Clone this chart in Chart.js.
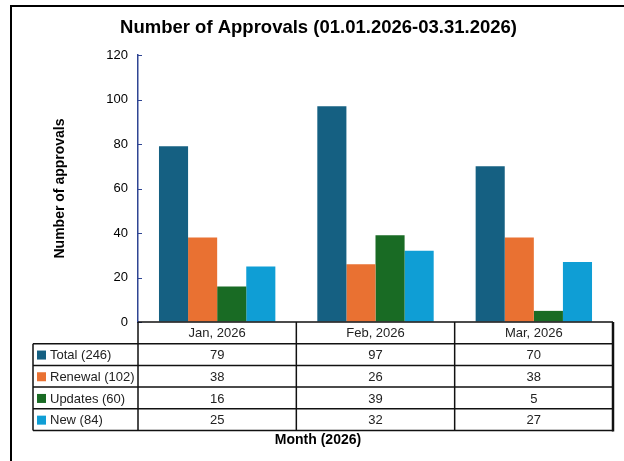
<!DOCTYPE html>
<html>
<head>
<meta charset="utf-8">
<script src="https://cdn.jsdelivr.net/npm/chart.js@4"></script>
<style>
  body { margin: 0; background: #fff; }
  canvas { display: block; }
</style>
</head>
<body>
<canvas id="approvals" width="624" height="461"></canvas>
<script>
// data
const months = ["Jan, 2026", "Feb, 2026", "Mar, 2026"];
const seriesNames = ["Total", "Renewal", "Updates", "New"];
const totalValues = [79, 97, 70];
const renewalValues = [38, 26, 38];
const updatesValues = [16, 39, 5];
const newValues = [25, 32, 27];
const yMax = 120;
const yStep = 20;

const seriesColors = ["#156082", "#E97132", "#196B24", "#0F9ED5"];
const FONT = "'Liberation Sans', Arial, sans-serif";

const sum = (arr) => arr.reduce((a, b) => a + b, 0);
const allValues = [totalValues, renewalValues, updatesValues, newValues];

// frame + data table drawn under the plot
const tablePlugin = {
  id: "dataTable",
  beforeDraw(chart) {
    const ctx = chart.ctx;
    ctx.save();
    ctx.fillStyle = "#fff";
    ctx.fillRect(0, 0, chart.width, chart.height);
    ctx.strokeStyle = "#000";
    ctx.lineWidth = 2;
    ctx.beginPath();
    ctx.moveTo(10, 6);
    ctx.lineTo(chart.width, 6);
    ctx.moveTo(11, 6);
    ctx.lineTo(11, chart.height);
    ctx.stroke();
    ctx.restore();
  },
  afterDraw(chart) {
    const ctx = chart.ctx;
    const area = chart.chartArea;
    const yScale = chart.scales.y;
    const catW = (area.right - area.left) / months.length;
    const rowH = 21.7;
    const top = area.bottom;
    const legendLeft = 33;
    ctx.save();

    // inward ticks on the y axis
    ctx.strokeStyle = "#2f4593";
    ctx.lineWidth = 1;
    yScale.ticks.forEach((t) => {
      const y = Math.round(yScale.getPixelForValue(t.value)) + 0.5;
      ctx.beginPath();
      ctx.moveTo(area.left, y);
      ctx.lineTo(area.left + 4, y);
      ctx.stroke();
    });

    // grid lines
    ctx.strokeStyle = "#111";
    ctx.lineWidth = 1.5;
    ctx.beginPath();
    ctx.moveTo(area.left, top);
    ctx.lineTo(area.right, top);
    for (let r = 1; r <= seriesNames.length + 1; r++) {
      ctx.moveTo(legendLeft, top + r * rowH);
      ctx.lineTo(area.right, top + r * rowH);
    }
    for (let c = 0; c < months.length; c++) {
      const x = area.left + c * catW;
      ctx.moveTo(x, top);
      ctx.lineTo(x, top + (seriesNames.length + 1) * rowH);
    }
    ctx.moveTo(legendLeft, top + rowH);
    ctx.lineTo(legendLeft, top + (seriesNames.length + 1) * rowH);
    ctx.stroke();
    ctx.lineWidth = 2.5;
    ctx.beginPath();
    ctx.moveTo(area.right, top);
    ctx.lineTo(area.right, top + (seriesNames.length + 1) * rowH + 1);
    ctx.stroke();

    // header + values
    ctx.fillStyle = "#222";
    ctx.font = "13px " + FONT;
    ctx.textAlign = "center";
    ctx.textBaseline = "middle";
    months.forEach((m, c) => {
      const cx = area.left + (c + 0.5) * catW;
      ctx.fillText(m, cx, top + rowH / 2 + 1);
      allValues.forEach((vals, r) => {
        ctx.fillText(String(vals[c]), cx, top + (r + 1.5) * rowH + 1);
      });
    });

    // legend keys
    ctx.textAlign = "left";
    seriesNames.forEach((name, r) => {
      const cy = top + (r + 1.5) * rowH;
      ctx.fillStyle = seriesColors[r];
      ctx.fillRect(legendLeft + 4, cy - 4, 9, 9);
      ctx.fillStyle = "#222";
      ctx.fillText(name + " (" + sum(allValues[r]) + ")", legendLeft + 17, cy + 1);
    });

    // x axis title
    ctx.fillStyle = "#000";
    ctx.font = "bold 14px " + FONT;
    ctx.textAlign = "center";
    ctx.fillText("Month (2026)", 318, 440);
    ctx.restore();
  },
};

new Chart(document.getElementById("approvals"), {
  type: "bar",
  data: {
    labels: months,
    datasets: seriesNames.map((name, i) => ({
      label: name + " (" + sum(allValues[i]) + ")",
      data: allValues[i],
      backgroundColor: seriesColors[i],
      borderWidth: 0,
      barPercentage: 1,
      categoryPercentage: 0.735,
    })),
  },
  options: {
    responsive: false,
    animation: false,
    layout: { padding: { left: 24, right: 11, top: 0, bottom: 139 } },
    plugins: {
      legend: { display: false },
      tooltip: { enabled: false },
      title: {
        display: true,
        text: "Number of Approvals (01.01.2026-03.31.2026)",
        color: "#000",
        font: { family: FONT, size: 18.5, weight: "bold" },
        padding: { top: 17, bottom: 15.8 },
      },
    },
    scales: {
      x: { display: false },
      y: {
        min: 0,
        max: yMax,
        afterFit(scale) {
          scale.width = 114;
        },
        ticks: {
          stepSize: yStep,
          color: "#000",
          padding: 10,
          font: { family: FONT, size: 13 },
        },
        grid: { display: true, drawOnChartArea: false, drawTicks: false },
        border: { color: "#2f4593", width: 1.5 },
        title: {
          display: true,
          text: "Number of approvals",
          color: "#000",
          font: { family: FONT, size: 14, weight: "bold" },
          padding: { top: 28, bottom: 0 },
        },
      },
    },
  },
  plugins: [tablePlugin],
});
</script>
</body>
</html>
